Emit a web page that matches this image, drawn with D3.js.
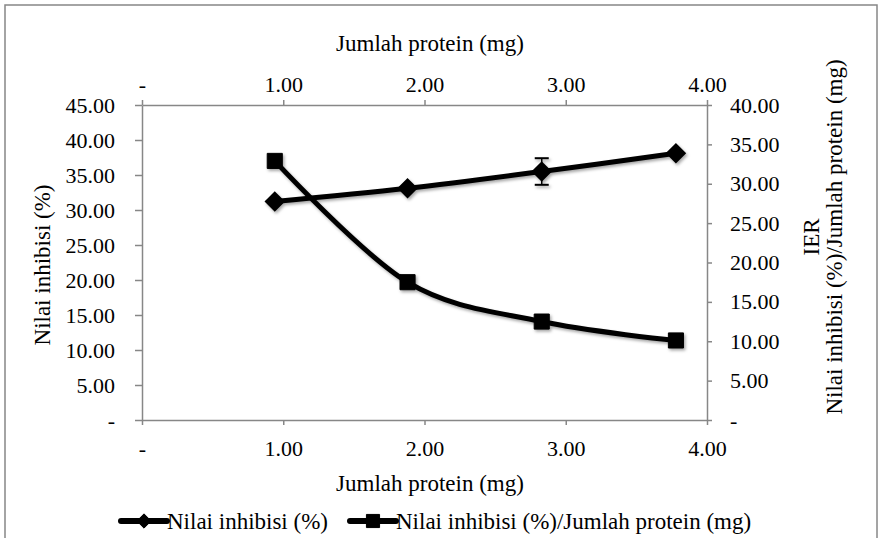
<!DOCTYPE html>
<meta charset="utf-8">
<head>
  <title>Nilai inhibisi dan IER</title>
  <style>
    body { margin: 0; background: #fff; }
    svg, text { font-family: "Liberation Serif", "Times New Roman", "DejaVu Serif", serif; fill: #000; }
  </style>
</head>

<body>
  <script src="https://d3js.org/d3.v7.min.js"></script>

  <script>

// data
const protein = [0.94, 1.88, 2.83, 3.78];          // Jumlah protein (mg)
const inhibisi = [31.2, 33.1, 35.5, 38.1];         // Nilai inhibisi (%)
const inhibisiErr = [0, 0, 1.9, 0];
const ier = [32.9, 17.5, 12.5, 10.1];              // Nilai inhibisi (%)/Jumlah protein (mg)

const xTicks = [0, 1, 2, 3, 4];
const yLeftTicks = [0, 5, 10, 15, 20, 25, 30, 35, 40, 45];
const yRightTicks = [0, 5, 10, 15, 20, 25, 30, 35, 40];

const xTitle = "Jumlah protein (mg)";
const yLeftTitle = "Nilai inhibisi (%)";
const yRightTitle = ["IER", "Nilai inhibisi (%)/Jumlah protein (mg)"];
const seriesNames = ["Nilai inhibisi (%)", "Nilai inhibisi (%)/Jumlah protein (mg)"];

const totalWidth = 880, totalHeight = 538,
      margin = {top: 105, right: 173, bottom: 118, left: 142},
      width = totalWidth - margin.left - margin.right,
      height = totalHeight - margin.top - margin.bottom;

const axisColor = "#878787";
const serif = "\"Liberation Serif\", \"Times New Roman\", \"DejaVu Serif\", serif";
const fmt = v => v === 0 ? "-" : d3.format(".2f")(v);

const svg = d3.select("body")
    .append("svg")
    .attr("width", totalWidth)
    .attr("height", totalHeight);

// soft shadow like the office chart
const filter = svg.append("defs").append("filter")
    .attr("id", "shadow")
    .attr("x", "-20%").attr("y", "-20%")
    .attr("width", "140%").attr("height", "140%");
filter.append("feDropShadow")
    .attr("dx", 1.5).attr("dy", 2)
    .attr("stdDeviation", 1.6)
    .attr("flood-color", "#000")
    .attr("flood-opacity", 0.35);

// outer chart frame
svg.append("rect")
    .attr("x", 5).attr("y", 5)
    .attr("width", 872).attr("height", 560)
    .style("fill", "none")
    .style("stroke", axisColor)
    .style("stroke-width", 1.5);

const g = svg.append("g")
    .attr("transform", "translate(" + margin.left + "," + margin.top + ")");

const x = d3.scaleLinear().domain([0, 4]).range([0, width]);
const yLeft = d3.scaleLinear().domain([0, 45]).range([height, 0]);
const yRight = d3.scaleLinear().domain([0, 40]).range([height, 0]);

function styleAxis(sel) {
  sel.attr("font-family", null).attr("font-size", null);
  sel.selectAll("path, line")
    .style("stroke", axisColor)
    .style("stroke-width", 1.5);
  sel.selectAll("text")
    .style("font-size", "22px")
    .style("font-family", serif)
    .style("fill", "#000");
}

// bottom axis
g.append("g")
  .attr("transform", "translate(0," + height + ")")
  .call(d3.axisBottom(x).tickValues(xTicks).tickFormat(fmt)
        .tickSizeInner(5).tickSizeOuter(0).tickPadding(15))
  .call(styleAxis);

// top (secondary) axis
g.append("g")
  .call(d3.axisTop(x).tickValues(xTicks).tickFormat(fmt)
        .tickSizeInner(5).tickSizeOuter(0).tickPadding(8))
  .call(styleAxis);

// left axis
g.append("g")
  .call(d3.axisLeft(yLeft).tickValues(yLeftTicks).tickFormat(fmt)
        .tickSizeInner(7).tickSizeOuter(0).tickPadding(20))
  .call(styleAxis);

// right axis
g.append("g")
  .attr("transform", "translate(" + width + ",0)")
  .call(d3.axisRight(yRight).tickValues(yRightTicks).tickFormat(fmt)
        .tickSizeInner(5).tickSizeOuter(0).tickPadding(18))
  .call(styleAxis);

// axis titles
svg.append("text")
  .attr("x", 430).attr("y", 43)
  .attr("text-anchor", "middle").attr("dominant-baseline", "central")
  .style("font-size", "23px")
  .text(xTitle);

svg.append("text")
  .attr("x", 430).attr("y", 483)
  .attr("text-anchor", "middle").attr("dominant-baseline", "central")
  .style("font-size", "23px")
  .text(xTitle);

svg.append("text")
  .attr("transform", "translate(42,265) rotate(-90)")
  .attr("text-anchor", "middle").attr("dominant-baseline", "central")
  .style("font-size", "23px")
  .text(yLeftTitle);

yRightTitle.forEach((t, i) => {
  svg.append("text")
    .attr("transform", "translate(" + (811 + i * 23) + ",237) rotate(-90)")
    .attr("text-anchor", "middle").attr("dominant-baseline", "central")
    .style("font-size", "23px")
    .text(t);
});

const inhData = protein.map((p, i) => ({x: p, y: inhibisi[i], err: inhibisiErr[i]}));
const ierData = protein.map((p, i) => ({x: p, y: ier[i]}));

const smooth = d3.curveCardinal.tension(0);

const lineLeft = d3.line()
  .x(d => x(d.x)).y(d => yLeft(d.y)).curve(smooth);
const lineRight = d3.line()
  .x(d => x(d.x)).y(d => yRight(d.y)).curve(smooth);

const plot = g.append("g").attr("filter", "url(#shadow)");

// Nilai inhibisi line + error bars + diamonds
plot.append("path")
  .attr("d", lineLeft(inhData))
  .style("fill", "none").style("stroke", "#000").style("stroke-width", 5);

const eb = plot.append("g").selectAll("g")
  .data(inhData.filter(d => d.err > 0))
  .join("g");
eb.append("line")
  .attr("x1", d => x(d.x)).attr("x2", d => x(d.x))
  .attr("y1", d => yLeft(d.y - d.err)).attr("y2", d => yLeft(d.y + d.err))
  .style("stroke", "#000").style("stroke-width", 1.5);
eb.selectAll(".cap")
  .data(d => [d.y - d.err, d.y + d.err].map(v => ({x: d.x, v})))
  .join("line")
  .attr("x1", d => x(d.x) - 7).attr("x2", d => x(d.x) + 7)
  .attr("y1", d => yLeft(d.v)).attr("y2", d => yLeft(d.v))
  .style("stroke", "#000").style("stroke-width", 2);

const diamond = d3.symbol().type(d3.symbolDiamond2).size(200);
const square = d3.symbol().type(d3.symbolSquare2).size(290);

plot.append("g").selectAll("path")
  .data(inhData)
  .join("path")
  .attr("transform", d => "translate(" + x(d.x) + "," + yLeft(d.y) + ")")
  .attr("d", diamond)
  .style("fill", "#000").style("stroke", "#000").style("stroke-width", 2);

// IER line + squares
plot.append("path")
  .attr("d", lineRight(ierData))
  .style("fill", "none").style("stroke", "#000").style("stroke-width", 5);

plot.append("g").selectAll("path")
  .data(ierData)
  .join("path")
  .attr("transform", d => "translate(" + x(d.x) + "," + yRight(d.y) + ")")
  .attr("d", square)
  .style("fill", "#000").style("stroke", "#000").style("stroke-width", 1);

// legend
const legendItems = [
  {name: seriesNames[0], sym: d3.symbol().type(d3.symbolDiamond2).size(130), x0: 121},
  {name: seriesNames[1], sym: d3.symbol().type(d3.symbolSquare2).size(220), x0: 350}
];
const legend = svg.append("g").attr("transform", "translate(0,521)");
const li = legend.selectAll("g").data(legendItems).join("g")
  .attr("transform", d => "translate(" + d.x0 + ",0)");
li.append("line")
  .attr("x1", 0).attr("x2", 46).attr("y1", 0).attr("y2", 0)
  .style("stroke", "#000").style("stroke-width", 6).style("stroke-linecap", "round");
li.append("path")
  .attr("transform", "translate(23,0)")
  .attr("d", d => d.sym())
  .style("fill", "#000").style("stroke", "#000");
li.append("text")
  .attr("x", 46).attr("y", 0)
  .attr("dominant-baseline", "central")
  .style("font-size", "23px")
  .text(d => d.name);

  </script>
</body>
</html>
